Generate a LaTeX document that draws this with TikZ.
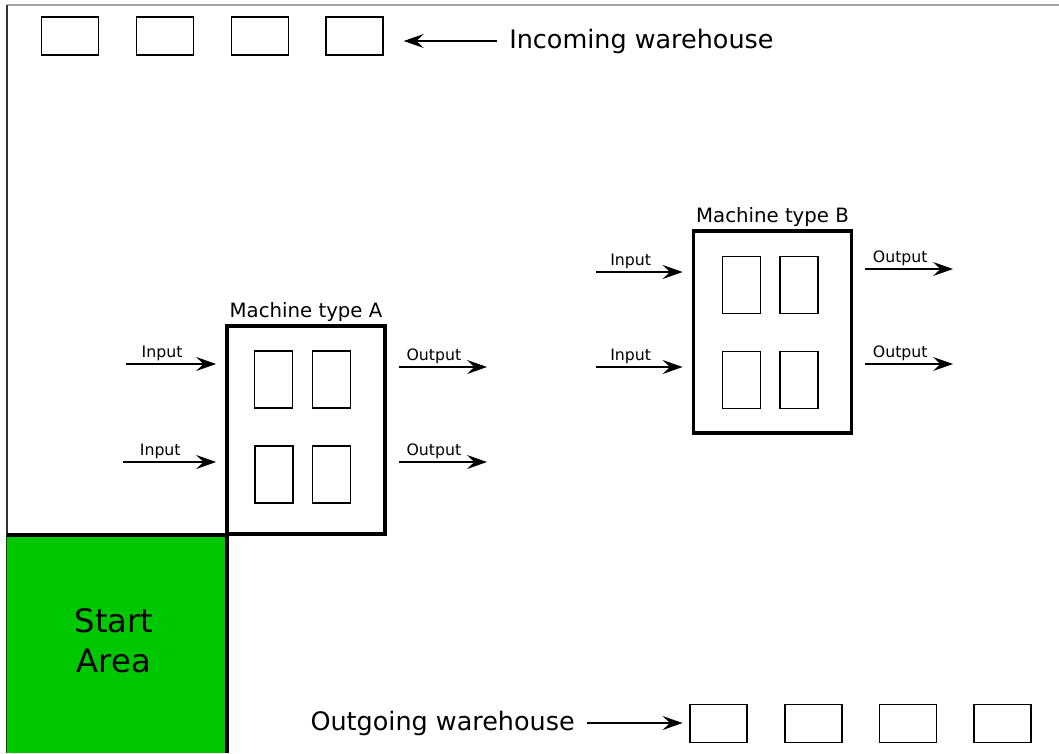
\documentclass[tikz,border=0pt]{standalone}
\usepackage{fontspec}
\setmainfont{DejaVu Sans}
\usetikzlibrary{arrows.meta,positioning}
\definecolor{vert}{RGB}{0,200,0}
\newcommand{\bac}[2]{\node[bac] (#1) at (#2) {}}
\newcommand{\poste}[2]{\node[poste] (#1) at (#2) {}}
\newcommand{\entree}[3]{\draw[fleche] (#1) -- ([xshift=-7pt]#1 -| #2.west) node[etiq] {#3}}
\newcommand{\sortie}[3]{\draw[fleche] ([xshift=9pt]#1 -| #2.east) -- (#1) node[etiq] {#3}}
\tikzset{
	bac/.style={draw, line width=1.1pt, minimum width=42.75pt, minimum height=28.5pt, inner sep=0pt},
	poste/.style={draw, line width=1.1pt, minimum width=28.5pt, minimum height=42.75pt, inner sep=0pt},
	machine/.style={draw, line width=2.3pt, minimum width=118.5pt, inner sep=0pt},
	fleche/.style={-{Stealth[length=15pt, width=10.5pt, inset=5.5pt]}, line width=1.1pt},
	etiq/.style={pos=0.4, above, inner sep=2pt, font=\fontsize{11.8}{14}\selectfont},
	titre/.style={inner sep=2pt, font=\fontsize{14.8}{18}\selectfont},
	grand/.style={inner sep=0pt, font=\fontsize{19.1}{23}\selectfont}
}

\begin{document}
\begin{tikzpicture}[x=0.75pt, y=-0.75pt]
	\useasboundingbox (0,0) rectangle (1059,753);
%Frame
	\draw[line width=1.5pt, gray!70] (7,5) -- (1059,5);
	\draw[line width=1.6pt, black!80] (7,5) -- (7,753);
%Start area
	\fill[vert] (7,535) rectangle (227,753);
	\draw[line width=2.3pt] (7,535) -- (227,535) -- (227,753);
	\node[align=center, font=\fontsize{24.2}{30}\selectfont] (start) at (114,641) {Start\\Area};
%Incoming warehouse
	\foreach \i/\x in {1/70,2/165,3/260,4/354.5}
		\bac{in\i}{\x,36};
	\node[grand, anchor=west] (incoming) at (509,41) {Incoming warehouse};
	\draw[fleche] ([xshift=-9pt]incoming.west) -- ([xshift=15pt]incoming.west -| in4.east);
%Outgoing warehouse
	\foreach \i/\x in {1/718.5,2/813.5,3/908,4/1002.5}
		\bac{out\i}{\x,723.5};
	\node[grand, anchor=east] (outgoing) at (575,723) {Outgoing warehouse};
	\draw[fleche] ([xshift=9pt]outgoing.east) -- ([xshift=-5pt]outgoing.east -| out1.west);
%Machine type A
	\node[machine, minimum height=156pt] (machA) at (306,430) {};
	\node[titre, above=0pt of machA] (titreA) {Machine type A};
	\poste{pA1}{273.5,379.5};
	\poste{pA2}{331.5,379.5};
	\poste{pA3}{274,474.5};
	\poste{pA4}{331.5,474.5};
	\coordinate (eA1) at (126,364);
	\coordinate (eA2) at (123,462);
	\coordinate (sA1) at (487,367);
	\coordinate (sA2) at (487,462);
	\entree{eA1}{machA}{Input};
	\entree{eA2}{machA}{Input};
	\sortie{sA1}{machA}{Output};
	\sortie{sA2}{machA}{Output};
%Machine type B
	\node[machine, minimum height=151.5pt] (machB) at (772.5,332) {};
	\node[titre, above=0pt of machB] (titreB) {Machine type B};
	\poste{pB1}{741.5,285};
	\poste{pB2}{799,285};
	\poste{pB3}{741.5,380};
	\poste{pB4}{799,380};
	\coordinate (eB1) at (596,272);
	\coordinate (eB2) at (596,367);
	\coordinate (sB1) at (953,269);
	\coordinate (sB2) at (953,364);
	\entree{eB1}{machB}{Input};
	\entree{eB2}{machB}{Input};
	\sortie{sB1}{machB}{Output};
	\sortie{sB2}{machB}{Output};
\end{tikzpicture}
\end{document}
